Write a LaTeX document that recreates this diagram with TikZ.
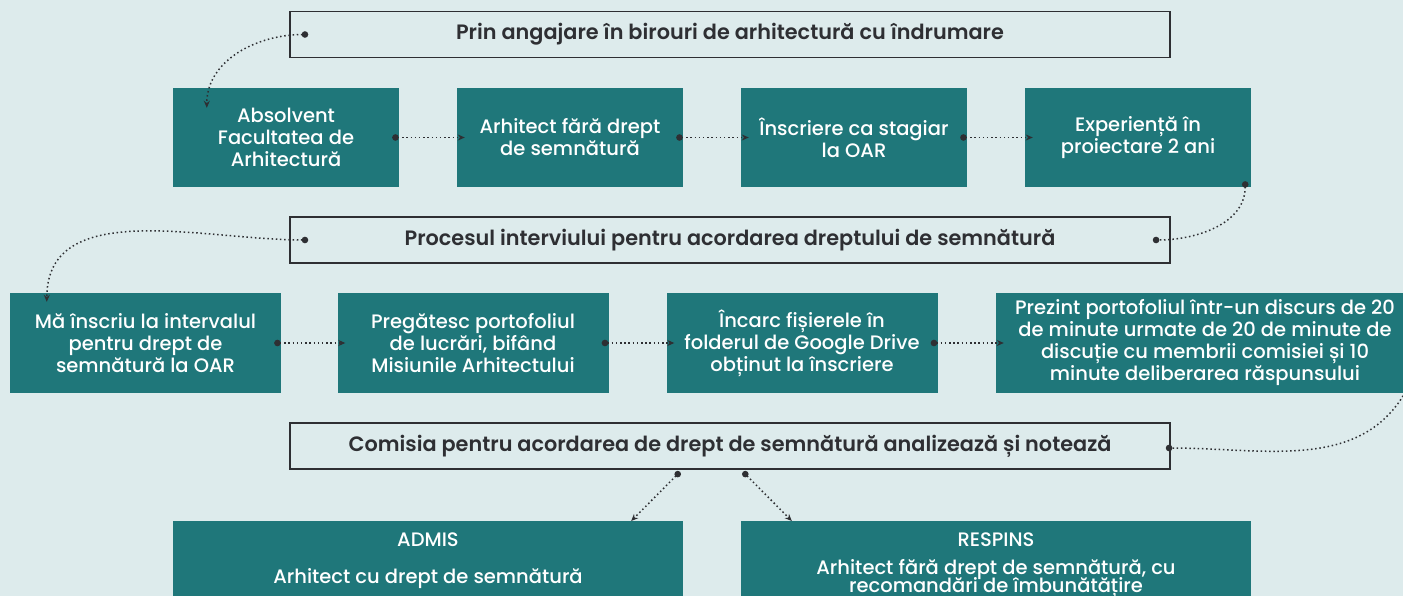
\documentclass[tikz,border=0pt]{standalone}
\usepackage{fontspec}
\setmainfont{Poppins}[UprightFont={Poppins Medium}, BoldFont={Poppins SemiBold}]
\usetikzlibrary{arrows.meta}
\usetikzlibrary{calc}
\definecolor{bgcol}{HTML}{DDEBEC}
\definecolor{tealbox}{HTML}{1F777A}
\definecolor{inkcol}{HTML}{2E2F33}

\begin{document}
\begin{tikzpicture}[x=1pt, y=1pt,
  stage/.style={fill=tealbox, text=white, align=center, inner sep=0pt,
    minimum width=226pt, minimum height=99pt, font=\fontsize{19.5}{22}\selectfont},
  route/.style={draw=inkcol, line width=1.6pt, fill=bgcol, text=inkcol, inner sep=0pt,
    minimum width=880pt, minimum height=46pt, font=\fontsize{20.8}{22}\selectfont\bfseries},
  verdict/.style={text=white, align=center, inner sep=0pt, font=\fontsize{19.5}{22}\selectfont},
  flow/.style={draw=inkcol, line width=1.5pt, dash pattern=on 1.5pt off 2.7pt,
    {Circle[length=6.5pt]}-{Stealth[length=7pt, width=6pt]}},
  link/.style={draw=inkcol, line width=1.5pt, dash pattern=on 1.5pt off 2.7pt,
    {Circle[length=6.5pt]}-{Circle[length=6.5pt]}}]

\fill[bgcol] (0,0) rectangle (1403,-596);
\useasboundingbox (0,0) rectangle (1403,-596);

% first route
\node[route] (angajare) at (730,-34.5) {Prin angajare în birouri de arhitectură cu îndrumare};

\node[stage] (absolvent) at (286,-137.5) {Absolvent\\Facultatea de\\Arhitectură};
\node[stage] (farasemn) at (570,-137.5) {Arhitect fără drept\\de semnătură};
\node[stage] (stagiar) at (854,-137.5) {Înscriere ca stagiar\\la OAR};
\node[stage] (experienta) at (1138,-137.5) {Experiență în\\proiectare 2 ani};

% interview
\node[route] (interviu) at (730,-240) {Procesul interviului pentru acordarea dreptului de semnătură};

\node[stage, minimum width=271pt, minimum height=100pt] (inscriu) at (145.5,-343) {Mă înscriu la intervalul\\pentru drept de\\semnătură la OAR};
\node[stage, minimum width=271pt, minimum height=100pt] (portofoliu) at (473,-343) {Pregătesc portofoliul\\de lucrări, bifând\\Misiunile Arhitectului};
\node[stage, minimum width=271pt, minimum height=100pt] (fisiere) at (802,-343) {Încarc fișierele în\\folderul de Google Drive\\obținut la înscriere};
\node[stage, minimum width=418pt, minimum height=100pt] (prezint) at (1205,-343) {Prezint portofoliul într-un discurs de 20\\de minute urmate de 20 de minute de\\discuție cu membrii comisiei și 10\\minute deliberarea răspunsului};

% result
\node[route] (comisia) at (730,-446) {Comisia pentru acordarea de drept de semnătură analizează și notează};

\node[stage, minimum width=510pt, minimum height=110pt, anchor=north] (admis) at (428,-521) {};
\node[stage, minimum width=510pt, minimum height=110pt, anchor=north] (respins) at (996,-521) {};
\node[verdict, anchor=north] (admistext) at ([yshift=-12]admis.north) {ADMIS\\[15pt]Arhitect cu drept de semnătură};
\node[verdict, anchor=north] (respinstext) at ([yshift=-12]respins.north) {RESPINS\\[6pt]Arhitect fără drept de semnătură, cu\\[-4pt]recomandări de îmbunătățire};

% connectors
\draw[flow] ([xshift=19]angajare.west) to[out=180, in=90] ($(absolvent.north west)+(34,-20)$);
\draw[flow] ([xshift=-7]absolvent.east) -- ([xshift=8]farasemn.west);
\draw[flow] ([xshift=-7]farasemn.east) -- ([xshift=8]stagiar.west);
\draw[flow] ([xshift=-7]stagiar.east) -- ([xshift=8]experienta.west);
\draw[link] ([xshift=-6, yshift=6]experienta.south east) to[out=-90, in=0] ([xshift=-18]interviu.east);

\draw[flow] ([xshift=19]interviu.west) to[out=180, in=90] ($(inscriu.north west)+(37,-9)$);
\draw[flow] ([xshift=-7]inscriu.east) -- ([xshift=8]portofoliu.west);
\draw[flow] ([xshift=-7]portofoliu.east) -- ([xshift=8]fisiere.west);
\draw[flow] ([xshift=-7]fisiere.east) -- ([xshift=8]prezint.west);
\draw[link] ([xshift=-6, yshift=6]prezint.south east) to[out=-120, in=0] ([xshift=-5, yshift=-2]comisia.east);

\draw[flow] ([xshift=-50, yshift=-2]comisia.south) -- ($(admis.north east)+(-52,0)$);
\draw[flow] ([xshift=13, yshift=-2]comisia.south) -- ($(respins.north west)+(51,0)$);
\end{tikzpicture}
\end{document}
